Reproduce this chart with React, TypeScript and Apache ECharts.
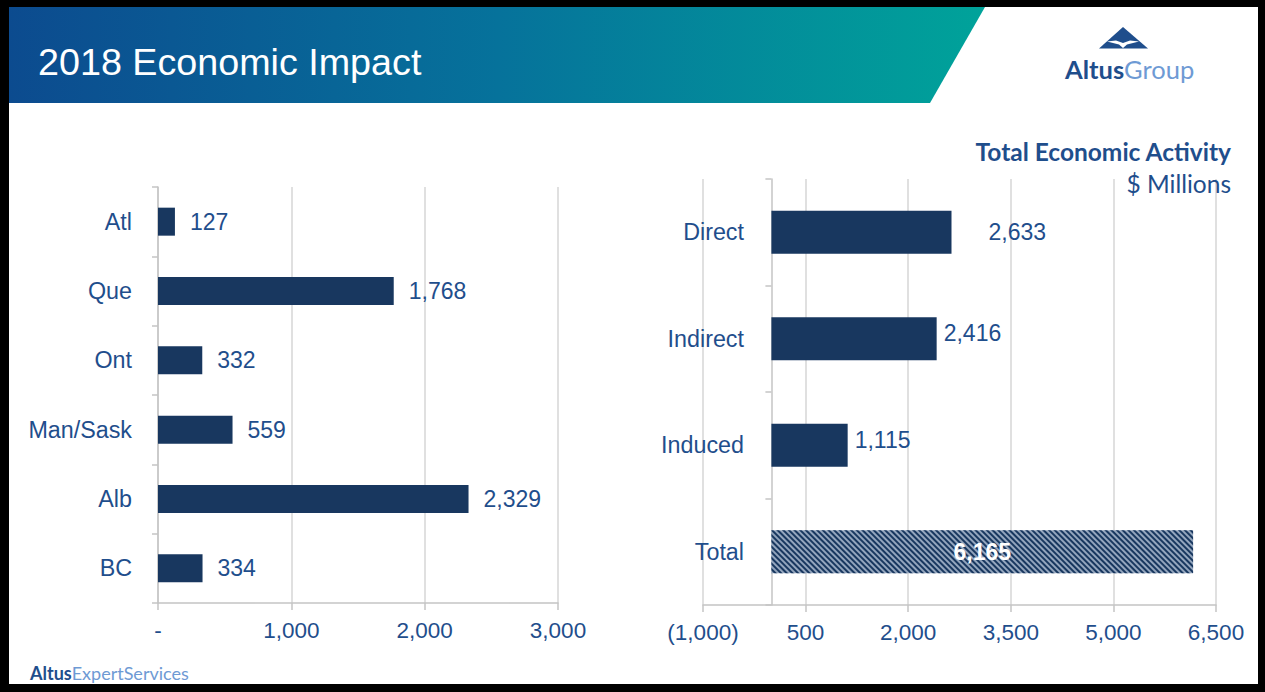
import React, { useEffect, useRef } from 'react';
import * as echarts from 'echarts';

const regions = ['Atl', 'Que', 'Ont', 'Man/Sask', 'Alb', 'BC'];
const regionValues = [127, 1768, 332, 559, 2329, 334];
const regionTicks = [0, 1000, 2000, 3000];

const impactTypes = ['Direct', 'Indirect', 'Induced', 'Total'];
const impactValues = [2633, 2416, 1115, 6165];
const impactTicks = [-1000, 500, 2000, 3500, 5000, 6500];
const impactLabelOffsets = [[30, 0], [0, -6], [0, -5], [0, 0]];

const TEXT_BLUE = '#1f4e8c';
const BAR = '#18375f';
const GRID_GRAY = '#d6d6d6';
const AXIS_GRAY = '#c4c4c4';
const ARIAL = '"Liberation Sans", Arial, sans-serif';
const CAL = 'Lato, "Open Sans", sans-serif';

const fmt = (v: number) => {
  if (v === 0) return '-';
  const s = Math.abs(v).toLocaleString('en-US');
  return v < 0 ? '(' + s + ')' : s;
};

export default function App() {
  const ref = useRef<HTMLDivElement>(null);
  useEffect(() => {
    document.body.style.margin = '0';
    const chart = echarts.init(ref.current!, null, { renderer: 'svg' });
    const tickLabel = { color: TEXT_BLUE, fontSize: 22.5, fontFamily: ARIAL };
    const catLabel = { color: TEXT_BLUE, fontSize: 23.3, fontFamily: ARIAL };
    const option: any = {
      animation: false,
      backgroundColor: '#000',
      grid: [
        { left: 158, top: 187, width: 400, height: 416 },
        { left: 703, top: 179, width: 513, height: 426 },
      ],
      xAxis: [
        {
          gridIndex: 0, type: 'value', min: 0, max: 3000, interval: 1000,
          axisLine: { show: true, lineStyle: { color: AXIS_GRAY, width: 1.5 } },
          axisTick: { show: true, length: 7, lineStyle: { color: AXIS_GRAY, width: 1.5 }, customValues: regionTicks },
          splitLine: { show: true, lineStyle: { color: GRID_GRAY, width: 1.5 } },
          axisLabel: { ...tickLabel, margin: 16, formatter: (v: number) => fmt(v), customValues: regionTicks },
        },
        {
          gridIndex: 1, type: 'value', min: -1000, max: 6500, interval: 1500,
          axisLine: { show: true, lineStyle: { color: AXIS_GRAY, width: 1.5 } },
          axisTick: { show: true, length: 7, lineStyle: { color: AXIS_GRAY, width: 1.5 }, customValues: impactTicks },
          splitLine: { show: true, lineStyle: { color: GRID_GRAY, width: 1.5 } },
          axisLabel: { ...tickLabel, margin: 16, formatter: (v: number) => fmt(v), customValues: impactTicks },
        },
      ],
      yAxis: [
        {
          gridIndex: 0, type: 'category', data: regions, inverse: true,
          axisLine: { show: true, lineStyle: { color: AXIS_GRAY, width: 1.5 } },
          axisTick: { show: true, length: 6, lineStyle: { color: AXIS_GRAY, width: 1.5 } },
          axisLabel: { ...catLabel, margin: 26 },
        },
        {
          gridIndex: 1, type: 'category', data: impactTypes, inverse: true,
          axisLine: { show: true, onZero: true, lineStyle: { color: AXIS_GRAY, width: 1.5 } },
          axisTick: { show: true, length: 6, lineStyle: { color: AXIS_GRAY, width: 1.5 } },
          axisLabel: { ...catLabel, margin: -41 },
        },
      ],
      series: [
        {
          type: 'bar', xAxisIndex: 0, yAxisIndex: 0, barWidth: 28,
          data: regionValues,
          itemStyle: { color: BAR },
          label: {
            show: true, position: 'right', distance: 15, color: TEXT_BLUE,
            fontSize: 23, fontFamily: ARIAL, formatter: (p: any) => fmt(p.value),
          },
        },
        {
          type: 'bar', xAxisIndex: 1, yAxisIndex: 1, barWidth: 43,
          data: impactValues.map((v, i) => {
            if (i === impactValues.length - 1) {
              return {
                value: v,
                itemStyle: {
                  color: '#93a5bd',
                  decal: {
                    symbol: 'rect', symbolSize: 1, color: BAR,
                    dashArrayX: [1, 0], dashArrayY: [2, 2], rotation: Math.PI / 4,
                  },
                },
                label: {
                  position: 'inside', color: '#fff', fontWeight: 'bold', distance: 0,
                  offset: impactLabelOffsets[i],
                },
              };
            }
            return { value: v, label: { offset: impactLabelOffsets[i] } };
          }),
          itemStyle: { color: BAR },
          label: {
            show: true, position: 'right', distance: 7, color: TEXT_BLUE,
            fontSize: 23, fontFamily: ARIAL, formatter: (p: any) => fmt(p.value),
          },
        },
      ],
      graphic: [
        { type: 'rect', z: -10, shape: { x: 9, y: 7, width: 1249, height: 677 }, style: { fill: '#fff' } },
        {
          type: 'polygon', z: -9,
          shape: { points: [[9, 7], [985, 7], [930, 103], [9, 103]] },
          style: {
            fill: new echarts.graphic.LinearGradient(0, 0, 1, 0, [
              { offset: 0, color: '#0c4b8f' },
              { offset: 0.5, color: '#06729b' },
              { offset: 1, color: '#00a39a' },
            ]),
          },
        },
        {
          type: 'text', z: 10, x: 38, y: 62,
          style: { text: '2018 Economic Impact', fill: '#fff', font: '37.7px ' + ARIAL, verticalAlign: 'middle' },
        },
        {
          type: 'polygon', z: 10,
          shape: { points: [[1123, 27], [1148, 48.5], [1099, 48.5]] },
          style: { fill: '#1f4e8c' },
        },
        {
          type: 'polygon', z: 11,
          shape: { points: [[1107, 41.5], [1116, 40.5], [1123, 43], [1130, 40.5], [1139, 41.5], [1127, 44.5], [1123, 48], [1119, 44.5]] },
          style: { fill: '#fff' },
        },
        {
          type: 'text', z: 10, x: 1065, y: 69,
          style: {
            text: '{a|Altus}{b|Group}', verticalAlign: 'middle',
            rich: {
              a: { fontFamily: CAL, fontSize: 25.5, fontWeight: 'bold', fill: '#1f4e8c', color: '#1f4e8c' },
              b: { fontFamily: CAL, fontSize: 25.5, fill: '#6e9ad4', color: '#6e9ad4' },
            },
          },
        },
        {
          type: 'text', z: 10, x: 1231, y: 151,
          style: { text: 'Total Economic Activity', fill: '#1f4e8c', font: 'bold 24.5px ' + CAL, align: 'right', verticalAlign: 'middle' },
        },
        {
          type: 'text', z: 10, x: 1231, y: 183,
          style: { text: '$ Millions', fill: '#1f4e8c', font: '24.5px ' + CAL, align: 'right', verticalAlign: 'middle' },
        },
        {
          type: 'text', z: 10, x: 30, y: 673,
          style: {
            text: '{a|Altus}{b|ExpertServices}', verticalAlign: 'middle',
            rich: {
              a: { fontFamily: CAL, fontSize: 18, fontWeight: 'bold', fill: '#1f4e8c', color: '#1f4e8c' },
              b: { fontFamily: CAL, fontSize: 18, fill: '#6e9ad4', color: '#6e9ad4' },
            },
          },
        },
      ],
    };
    chart.setOption(option);
    return () => chart.dispose();
  }, []);
  return <div ref={ref} style={{ position: 'absolute', left: 0, top: 0, width: 1265, height: 692 }} />;
}
